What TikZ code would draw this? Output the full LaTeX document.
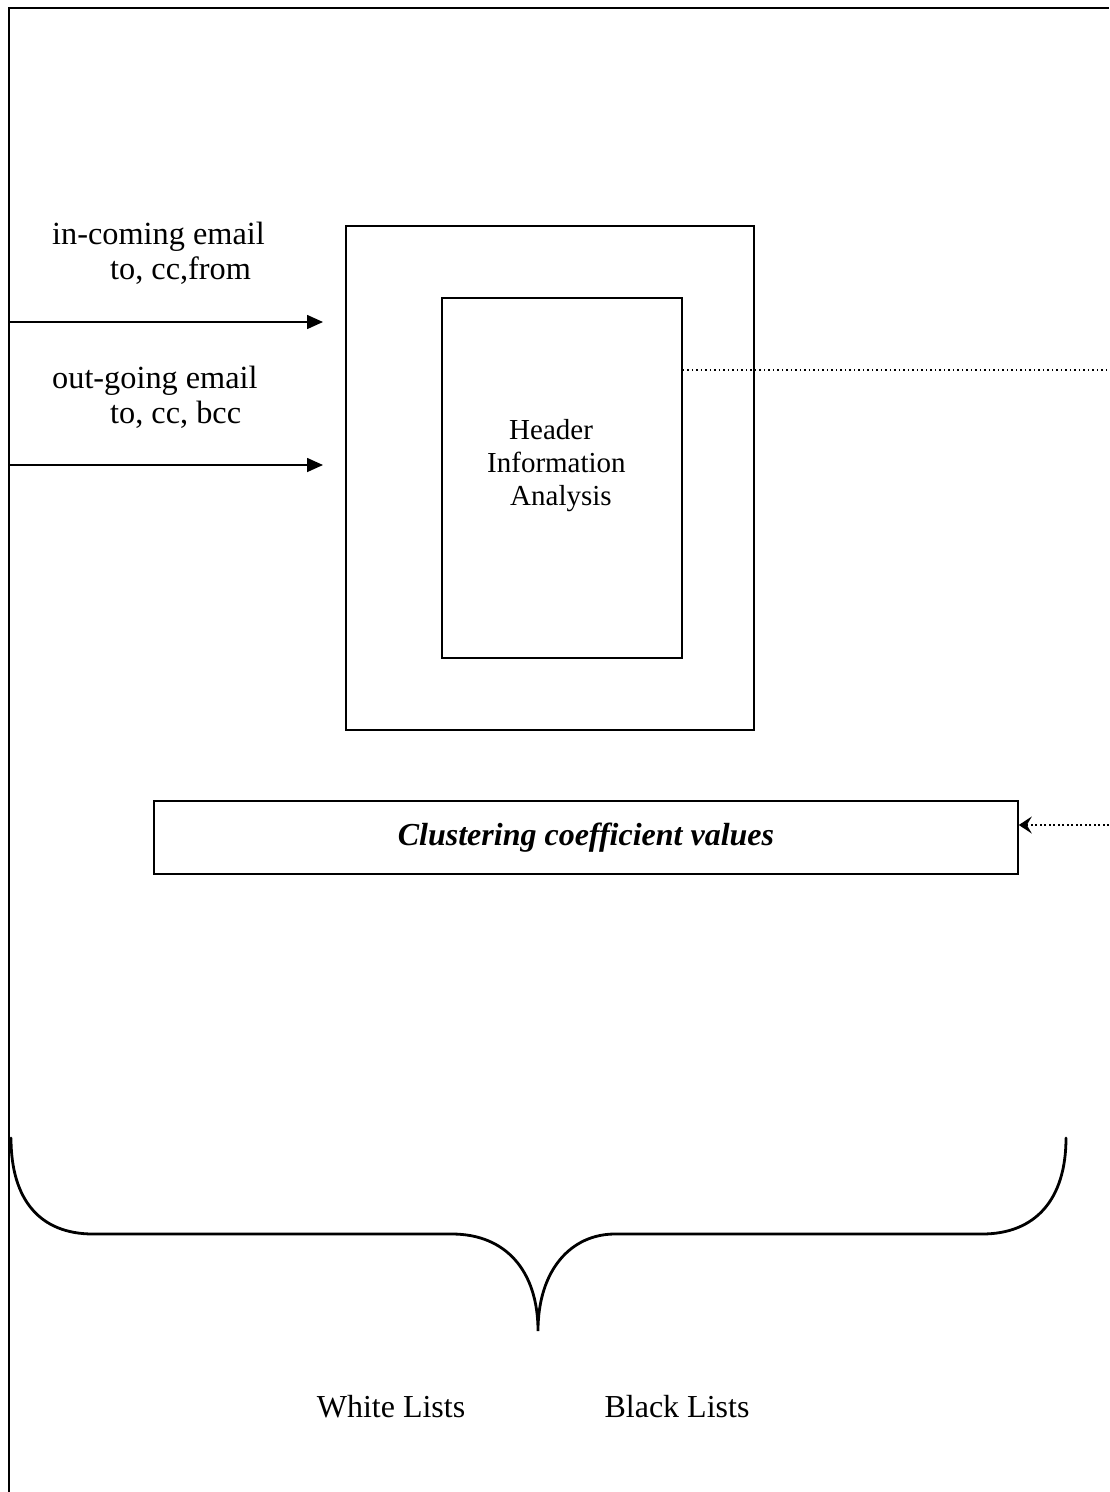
\documentclass[tikz,border=0pt]{standalone}
\usepackage{fontspec}
\setmainfont{Liberation Serif}
\usetikzlibrary{arrows.meta}
\begin{document}
\begin{tikzpicture}[x=1pt,y=-1pt,
  box/.style={draw,line width=1.6pt,inner sep=0pt},
  lbl/.style={font=\fontsize{32.3}{35}\selectfont,inner sep=0pt,anchor=base west},
  solidarrow/.style={line width=1.6pt,-{Triangle[length=16pt,width=14pt]}},
  dotline/.style={line width=1.6pt,dash pattern=on 1.6pt off 2.9pt},
  dotarrow/.style={dotline,-{Stealth[length=13pt,width=17pt,inset=5pt]}}]
\useasboundingbox (0,0) rectangle (1109,1492);
% frame
\draw[line width=2pt] (9,1492) -- (9,8) -- (1109,8);
% boxes
\node[box,minimum width=408pt,minimum height=504pt] (outer) at (550,478) {};
\node[box,minimum width=240pt,minimum height=360pt] (inner) at (562,478) {};
\node[align=left,anchor=west,inner sep=0pt,font=\fontsize{29}{33}\selectfont] (hia) at (487,466) {\hspace*{22pt}Header\\Information\\\hspace*{23pt}Analysis};
\node[box,minimum width=864pt,minimum height=73pt] (clust) at (586,837.5) {};
\node[font=\fontsize{32}{34}\selectfont\bfseries\itshape] (clusttext) at (586,838) {Clustering coefficient values};
% input labels
\node[lbl] (in1) at (52,244) {in-coming email};
\node[lbl] (in2) at (110,279) {to, cc,from};
\node[lbl] (out1) at (52,388) {out-going email};
\node[lbl] (out2) at (110,423) {to, cc, bcc};
% arrows
\coordinate (a1s) at (9,322);
\coordinate (a1e) at (323,322);
\coordinate (a2s) at (9,465);
\coordinate (a2e) at (323,465);
\draw[solidarrow] (a1s) -- (a1e);
\draw[solidarrow] (a2s) -- (a2e);
% dotted connectors
\coordinate (d1e) at (1109,370);
\draw[dotline] (inner.east |- d1e) -- (d1e);
\coordinate (d2s) at (1109,825);
\draw[dotarrow] (d2s) -- (clust.east |- d2s);
% brace
\draw[line width=2.8pt,line cap=round]
  (11,1138) .. controls (11,1200) and (40,1234) .. (93,1234)
  -- (452,1234) .. controls (505,1234) and (538,1270) .. (538,1331)
  .. controls (538,1270) and (571,1234) .. (615,1234)
  -- (982,1234) .. controls (1035,1234) and (1066,1200) .. (1066,1138);
\node[font=\fontsize{32}{34}\selectfont] (white) at (391,1407) {White Lists};
\node[font=\fontsize{32}{34}\selectfont] (black) at (677,1407) {Black Lists};
\end{tikzpicture}
\end{document}
